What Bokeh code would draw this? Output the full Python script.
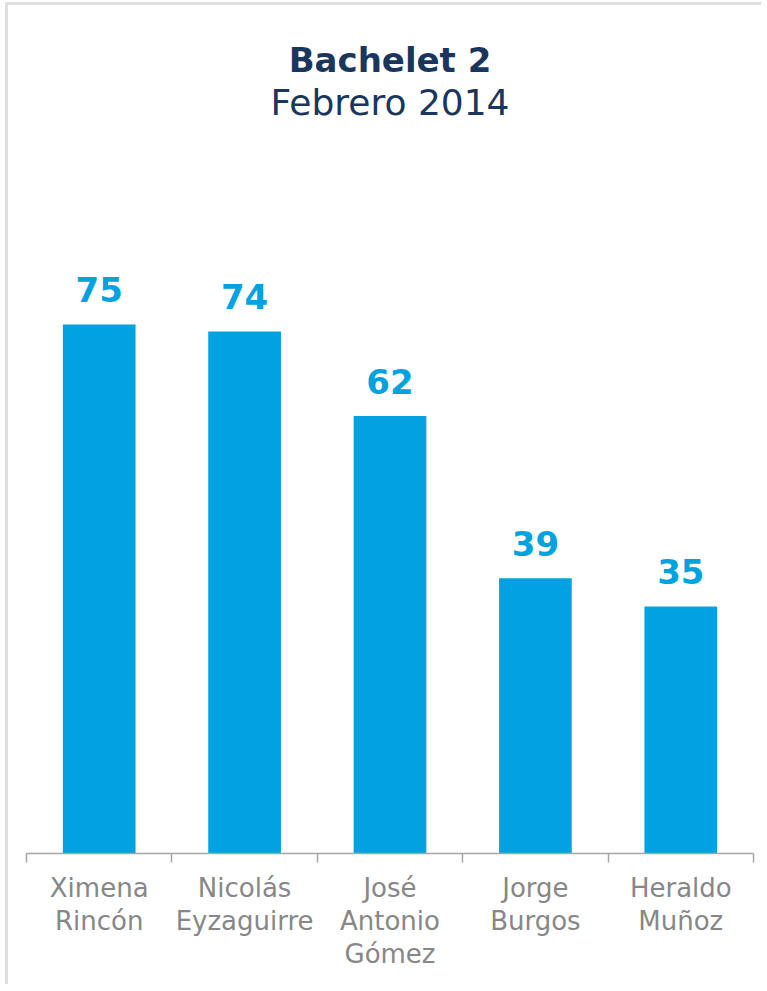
from bokeh.plotting import figure
from bokeh.models import Range1d, FixedTicker, ColumnDataSource
from bokeh.core.properties import value
from bokeh.embed import file_html
from bokeh.resources import INLINE

title_text = "Bachelet 2"
subtitle_text = "Febrero 2014"
names = ["Ximena\nRincón", "Nicolás\nEyzaguirre", "José\nAntonio\nGómez", "Jorge\nBurgos", "Heraldo\nMuñoz"]
values = [75, 74, 62, 39, 35]

FONT = "DejaVu Sans"
BLUE = "#00A3E0"
NAVY = "#1B365D"

centers = [i + 0.5 for i in range(len(values))]
src = ColumnDataSource(dict(x=centers, top=values, lab=[str(v) for v in values]))

YMAX = 120.2
p = figure(width=756, height=982, output_backend="svg", toolbar_location=None,
           x_range=Range1d(0, len(values)), y_range=Range1d(0, YMAX),
           min_border_left=18, min_border_right=11, min_border_top=0, min_border_bottom=134)
p.outline_line_color = None
p.grid.visible = False
p.yaxis.visible = False
p.background_fill_color = "white"
p.border_fill_color = "white"
p.styles = {"border-left": "3px solid #dedede", "border-top": "3px solid #dedede",
            "margin-left": "5px", "margin-top": "2px"}

p.vbar(x="x", top="top", width=0.5, bottom=0, source=src, fill_color=BLUE, line_color=None)
p.text(x="x", y="top", text="lab", source=src, text_align="center", text_baseline="alphabetic",
       y_offset=-35, text_color=BLUE, text_font_size="34px", text_font_style="bold",
       text_font=value(FONT))

mid = len(values) / 2
p.text(x=[mid], y=[110.45], text=[title_text], text_align="center", text_baseline="alphabetic",
       y_offset=-14, text_color=NAVY, text_font_size="34px", text_font_style="bold",
       text_font=value(FONT))
p.text(x=[mid], y=[104.2], text=[subtitle_text], text_align="center", text_baseline="alphabetic",
       y_offset=-16, text_color=NAVY, text_font_size="36px",
       text_font=value(FONT))

ax = p.xaxis[0]
ax.ticker = FixedTicker(ticks=centers, minor_ticks=list(range(len(values) + 1)))
ax.major_label_overrides = {c: n for c, n in zip(centers, names)}
ax.major_tick_line_color = None
ax.major_tick_out = 0
ax.major_tick_in = 0
ax.minor_tick_out = 9
ax.minor_tick_in = 0
ax.minor_tick_line_color = "#a6a6a6"
ax.minor_tick_line_width = 1.5
ax.axis_line_color = "#a6a6a6"
ax.axis_line_width = 1.5
ax.major_label_standoff = 10
ax.major_label_text_font = FONT
ax.major_label_text_font_size = "26px"
ax.major_label_text_color = "#878787"
ax.major_label_text_line_height = 1.1

open("out.html", "w").write(file_html(p, INLINE))
